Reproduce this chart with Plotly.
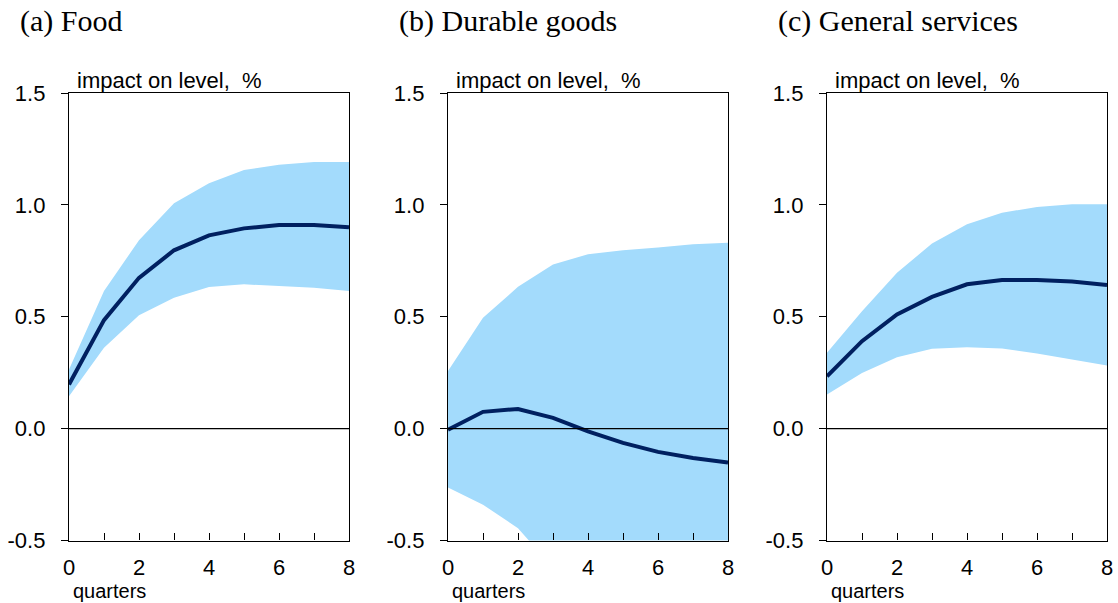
import plotly.graph_objects as go

# ---- data ----
quarters = [0, 1, 2, 3, 4, 5, 6, 7, 8]
panel_titles = ["(a) Food", "(b) Durable goods", "(c) General services"]
y_tick_vals = [-0.5, 0.0, 0.5, 1.0, 1.5]
y_tick_text = ["-0.5", "0.0", "0.5", "1.0", "1.5"]
x_tick_text = ["0", "", "2", "", "4", "", "6", "", "8"]

food_mid = [0.197, 0.485, 0.674, 0.797, 0.864, 0.895, 0.910, 0.910, 0.900]
food_hi = [0.264, 0.615, 0.842, 1.007, 1.097, 1.156, 1.179, 1.192, 1.192]
food_lo = [0.145, 0.361, 0.507, 0.585, 0.633, 0.645, 0.637, 0.630, 0.615]

durable_mid = [-0.005, 0.075, 0.088, 0.048, -0.012, -0.064, -0.104, -0.131, -0.151]
durable_hi = [0.257, 0.495, 0.634, 0.734, 0.779, 0.797, 0.809, 0.824, 0.831]
durable_lo = [-0.263, -0.340, -0.445, -0.62, -0.80, -0.93, -1.03, -1.10, -1.15]

services_mid = [0.234, 0.391, 0.510, 0.589, 0.645, 0.664, 0.664, 0.657, 0.642]
services_hi = [0.339, 0.525, 0.697, 0.827, 0.913, 0.965, 0.991, 1.003, 1.003]
services_lo = [0.152, 0.249, 0.319, 0.357, 0.364, 0.358, 0.336, 0.309, 0.282]

panels = [
    (food_lo, food_hi, food_mid),
    (durable_lo, durable_hi, durable_mid),
    (services_lo, services_hi, services_mid),
]

# ---- layout constants ----
W, H = 1118, 603
left_px = [69, 448, 827]
plot_w = 280
top_px, bot_px = 93, 540.5
band_color = "#A3DBFC"
line_color = "#002060"
sans = "Liberation Sans, Arial, sans-serif"
serif = "Liberation Serif, Times New Roman, serif"

fig = go.Figure()
layout = dict(
    template="none",
    width=W, height=H,
    margin=dict(l=0, r=0, t=0, b=0, pad=0),
    paper_bgcolor="white", plot_bgcolor="white",
    showlegend=False,
    annotations=[], shapes=[],
)

for i, (lo, hi, mid) in enumerate(panels):
    n = "" if i == 0 else str(i + 1)
    xa, ya = "x" + n, "y" + n
    fig.add_trace(go.Scatter(x=quarters, y=lo, mode="lines", line=dict(width=0),
                             xaxis=xa, yaxis=ya, hoverinfo="skip"))
    fig.add_trace(go.Scatter(x=quarters, y=hi, mode="lines", line=dict(width=0),
                             fill="tonexty", fillcolor=band_color,
                             xaxis=xa, yaxis=ya, hoverinfo="skip"))
    fig.add_trace(go.Scatter(x=quarters, y=mid, mode="lines",
                             line=dict(color=line_color, width=4),
                             xaxis=xa, yaxis=ya))
    x0 = left_px[i] / W
    x1 = (left_px[i] + plot_w) / W
    layout["xaxis" + n] = dict(
        domain=[x0, x1], anchor=ya, range=[0, 8], automargin=False,
        tickvals=quarters, ticktext=x_tick_text,
        ticks="inside", ticklen=7, tickwidth=1.3, tickcolor="black",
        showline=True, mirror=True, linecolor="black", linewidth=1.3,
        showgrid=False, zeroline=False,
        tickfont=dict(family=sans, size=22, color="black"),
        ticklabelstandoff=7,
    )
    layout["yaxis" + n] = dict(
        domain=[1 - bot_px / H, 1 - top_px / H], anchor=xa, range=[-0.5, 1.5],
        automargin=False,
        tickvals=y_tick_vals, ticktext=y_tick_text,
        ticks="outside", ticklen=7, tickwidth=1.3, tickcolor="black",
        showline=True, mirror=True, linecolor="black", linewidth=1.3,
        showgrid=False, zeroline=False,
        tickfont=dict(family=sans, size=22, color="black"),
        ticklabelstandoff=11,
    )
    layout["shapes"].append(dict(type="line", xref=xa + " domain", yref=ya,
                                 x0=0, x1=1, y0=0, y1=0, layer="above",
                                 line=dict(color="black", width=1.2)))
    layout["annotations"].append(dict(
        text=panel_titles[i], xref="paper", yref="paper",
        x=(left_px[i] - 51) / W, y=1 - 21 / H, xanchor="left", yanchor="middle",
        showarrow=False, font=dict(family=serif, size=30, color="black")))
    layout["annotations"].append(dict(
        text="impact on level,  %", xref="paper", yref="paper",
        x=(left_px[i] + 6) / W, y=1 - 80 / H, xanchor="left", yanchor="middle",
        showarrow=False, font=dict(family=sans, size=22, color="black")))
    layout["annotations"].append(dict(
        text="quarters", xref="paper", yref="paper",
        x=(left_px[i] + 2) / W, y=1 - 591 / H, xanchor="left", yanchor="middle",
        showarrow=False, font=dict(family=sans, size=20, color="black")))

fig.update_layout(**layout)
fig.write_html("out.html")
